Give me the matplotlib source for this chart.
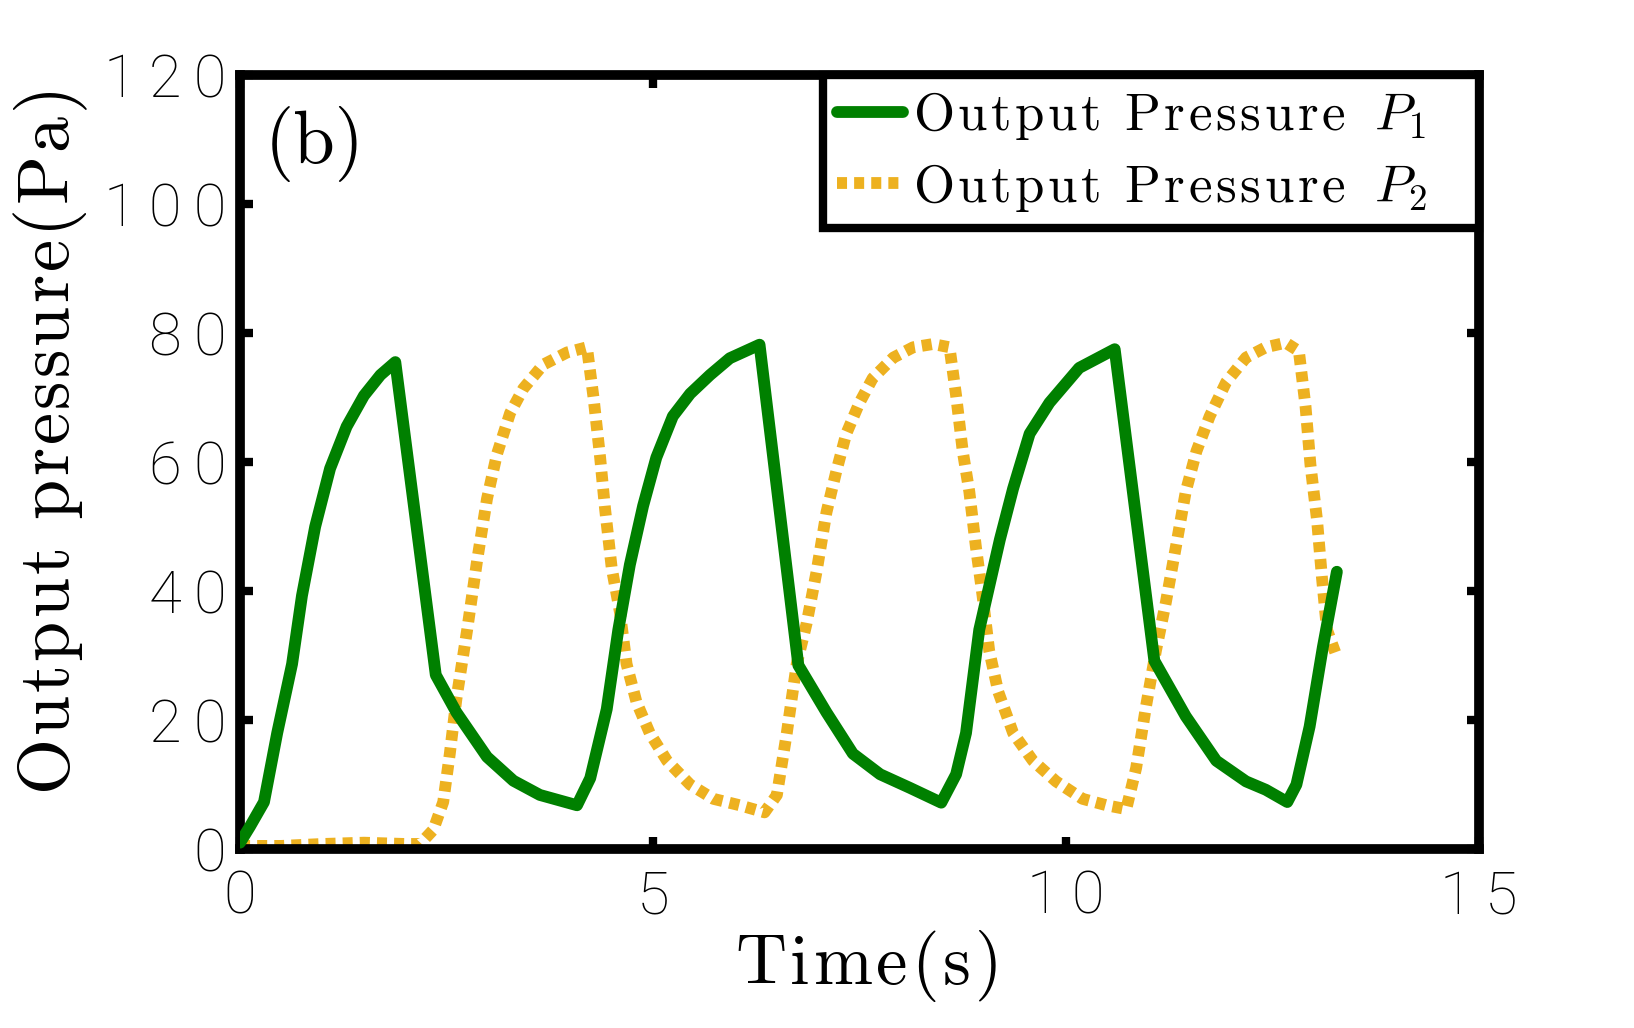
import matplotlib
matplotlib.use("Agg")
import matplotlib.pyplot as plt
from matplotlib.ticker import FuncFormatter, FixedLocator

# ---- data ----
t_p1 = [0, 0.12, 0.29, 0.45, 0.63, 0.75, 0.91, 1.09, 1.29, 1.5, 1.70, 1.88, 2.37,
        2.62, 2.99, 3.31, 3.63, 4.08, 4.24, 4.44, 4.58, 4.72, 4.88, 5.04, 5.24,
        5.45, 5.69, 5.93, 6.29, 6.76, 7.1, 7.42, 7.75, 8.11, 8.49, 8.67, 8.79,
        8.95, 9.2, 9.36, 9.56, 9.8, 10.16, 10.59, 11.07, 11.45, 11.82, 12.18,
        12.42, 12.68, 12.79, 12.95, 13.11, 13.28]
p1 = [1, 3.5, 7.3, 18, 28.7, 39.3, 50, 59, 65.5, 70.3, 73.5, 75.5, 27,
      21.2, 14.3, 10.6, 8.4, 6.8, 11, 21.7, 34, 44.1, 53.2, 60.7, 67.1,
      70.6, 73.5, 76.1, 78.2, 28.5, 21.2, 14.8, 11.6, 9.5, 7.2, 11.6, 18,
      34, 48, 55.9, 64.4, 69.2, 74.6, 77.5, 29.2, 20.6, 13.7, 10.5,
      9.2, 7.3, 10, 19, 31.3, 43]

t_p2 = [0, 0.5, 1.0, 1.5, 2.0, 2.18, 2.34, 2.46, 2.54, 2.62, 2.75, 2.87, 2.99,
        3.11, 3.27, 3.43, 3.67, 3.96, 4.2, 4.28, 4.36, 4.42, 4.5, 4.6, 4.68,
        4.8, 4.96, 5.17, 5.45, 5.73, 6.05, 6.35, 6.5, 6.62, 6.74, 6.86, 6.98,
        7.1, 7.22, 7.34, 7.5, 7.66, 7.91, 8.15, 8.39, 8.59, 8.67, 8.75, 8.83,
        8.91, 8.99, 9.07, 9.18, 9.36, 9.6, 9.88, 10.2, 10.49, 10.73, 10.85,
        10.97, 11.09, 11.21, 11.33, 11.45, 11.58, 11.74, 11.94, 12.18, 12.42,
        12.66, 12.82, 12.9, 12.96, 13.04, 13.1, 13.16, 13.26]
p2 = [0.5, 0.5, 0.8, 1.0, 0.8, 0.8, 3, 7.3, 14.8, 23.3, 34, 44.7, 54.3,
      61.2, 67.6, 71.4, 75.1, 77, 77.8, 70, 60.7, 52.7, 43.6, 36.7, 28.7,
      22.8, 18, 13.7, 10, 7.8, 6.8, 5.7, 8.4, 18, 28.7, 35, 43,
      52.2, 58.6, 64.4, 69.2, 73, 76.2, 77.8, 78.3, 77.8, 70.3, 61.7, 55.4,
      46.8, 39.3, 30.8, 24.4, 18, 13.7, 10.5, 7.8, 6.8, 6.2, 12.6,
      22.2, 30.8, 38.3, 46.8, 55.4, 61.7, 67.1, 72.4, 76.2, 77.8,
      78.5, 77.2, 68.7, 59.6, 51, 42, 34, 30.5]

x_ticks = [0, 5, 10, 15]
y_ticks = [0, 20, 40, 60, 80, 100, 120]
legend_text = "Output Pressure"
series_symbols = [r"P_1", r"P_2"]
panel_label = "(b)"
x_label = "Time(s)"
y_label = "Output pressure(Pa)"

plt.rcParams["mathtext.fontset"] = "cm"
plt.rcParams["axes.unicode_minus"] = False


def spaced(s, sp):
    """Letter-spaced roman text for mathtext."""
    parts = [r"\ " if ch == " " else ch for ch in s]
    return r"\mathrm{" + (r"\hspace{%g}" % sp).join(parts) + "}"


def legend_label(sym):
    return "$" + spaced(legend_text, 0.08) + r"\ \hspace{0.3}" + sym + "$"


fig = plt.figure(figsize=(16.34, 10.28), dpi=100)
ax = fig.add_axes([0.1469, 0.174, 0.7582, 0.753])

green = "#008000"
orange = "#EDB120"

ax.plot(t_p1, p1, color=green, lw=8.5, solid_joinstyle="round",
        solid_capstyle="round", zorder=3, label=legend_label(series_symbols[0]))
ax.plot(t_p2, p2, color=orange, lw=8.5, linestyle=(0, (0.85, 0.6)),
        dash_capstyle="butt", zorder=2, label=legend_label(series_symbols[1]))

ax.set_xlim(0, 15)
ax.set_ylim(0, 120)
ax.xaxis.set_major_locator(FixedLocator(x_ticks))
ax.yaxis.set_major_locator(FixedLocator(y_ticks))

fmt = FuncFormatter(lambda v, pos: "\u2009".join(str(int(round(v)))))
ax.xaxis.set_major_formatter(fmt)
ax.yaxis.set_major_formatter(fmt)

for s in ax.spines.values():
    s.set_linewidth(7)
    s.set_color("black")

ax.tick_params(axis="both", which="major", direction="in", length=9, width=6,
               top=True, right=True, labelsize=43, colors="black")
ax.tick_params(axis="x", pad=14)
ax.tick_params(axis="y", pad=10)
for lab in ax.get_xticklabels() + ax.get_yticklabels():
    lab.set_fontfamily("Roboto")
    lab.set_fontweight("light")

ax.set_xlabel("$" + spaced(x_label, 0.06) + "$", fontsize=51, labelpad=2)
ax.set_ylabel("$" + spaced(y_label, 0.05) + "$", fontsize=52, labelpad=10)
ax.xaxis.label.set_x(0.505)
ax.yaxis.label.set_y(0.525)

ax.text(0.02, 0.96, panel_label, transform=ax.transAxes, fontsize=54,
        family="cmr10", va="top", ha="left")

leg = ax.legend(loc="upper right", bbox_to_anchor=(0.4706, 0.0, 0.5294, 1.0),
                mode="expand", borderaxespad=0,
                prop={"size": 38}, handlelength=1.25,
                handletextpad=0.19, labelspacing=0.35, borderpad=0.27,
                fancybox=False, framealpha=1, edgecolor="black")
leg.get_frame().set_linewidth(6)

fig.savefig("out.png", dpi=100, facecolor="white")
